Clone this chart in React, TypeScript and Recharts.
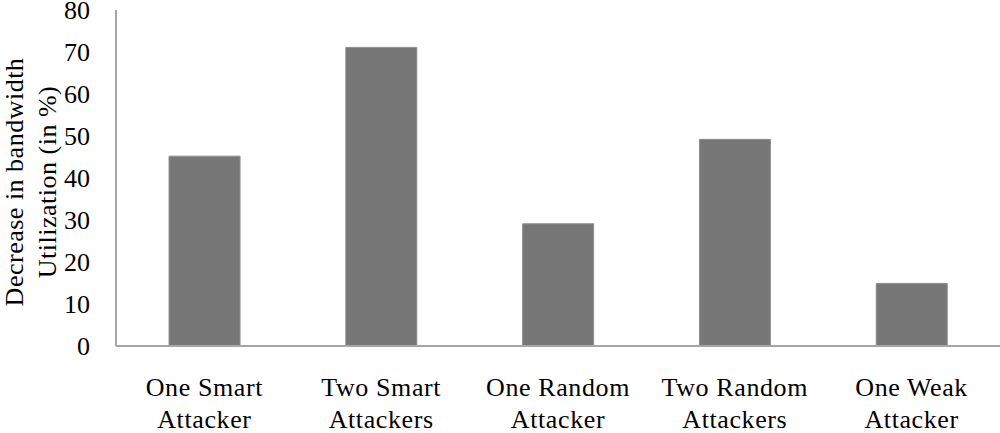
import { BarChart, Bar, XAxis, YAxis } from "recharts";

const categories = [
  ["One Smart", "Attacker"],
  ["Two Smart", "Attackers"],
  ["One Random", "Attacker"],
  ["Two Random", "Attackers"],
  ["One Weak", "Attacker"],
];
const decrease = [45.2, 71.1, 29.1, 49.2, 14.9];
const yTicks = [0, 10, 20, 30, 40, 50, 60, 70, 80];
const yLabelLines = ["Decrease in bandwidth", "Utilization (in %)"];

const data = categories.map((c, i) => ({ name: c.join("\n"), value: decrease[i] }));

const FONT = "Liberation Serif";
const AXIS = "#a6a6a6";

function CategoryTick(props: any) {
  const { x, y, payload } = props;
  const lines = String(payload.value).split("\n");
  return (
    <text x={x} textAnchor="middle" style={{ fontFamily: FONT, letterSpacing: 0.6 }} fontSize={26} fill="#000">
      {lines.map((l, i) => (
        <tspan key={i} x={x} y={y + 50 + i * 32}>
          {l}
        </tspan>
      ))}
    </text>
  );
}

function YTitle() {
  return (
    <g>
      {yLabelLines.map((l, i) => {
        const bx = 23 + i * 33;
        return (
          <text
            key={i}
            x={bx}
            y={182}
            transform={`rotate(-90, ${bx}, 182)`}
            textAnchor="middle"
            style={{ fontFamily: FONT, letterSpacing: 0.5 }}
            fontSize={26}
            fill="#000"
          >
            {l}
          </text>
        );
      })}
    </g>
  );
}

export default function App() {
  return (
    <div style={{ position: "absolute", left: 0, top: 0, background: "#fff" }}>
      <BarChart
        width={1000}
        height={433}
        data={data}
        margin={{ top: 10, right: 0, left: 0, bottom: 0 }}
        barCategoryGap="30%"
      >
        <XAxis
          dataKey="name"
          height={87}
          tick={<CategoryTick />}
          tickLine={false}
          tickSize={0}
          tickMargin={0}
          interval={0}
          axisLine={{ stroke: AXIS, strokeWidth: 2 }}
        />
        <YAxis
          width={116}
          domain={[0, 80]}
          ticks={yTicks}
          interval={0}
          tickLine={false}
          tickSize={0}
          tickMargin={26}
          axisLine={{ stroke: AXIS, strokeWidth: 2 }}
          tick={{ fontFamily: FONT, fontSize: 26, fill: "#000" }}
          label={{ content: () => <YTitle /> }}
        />
        <Bar dataKey="value" fill="#777777" stroke="#8e8e8e" strokeWidth={1} isAnimationActive={false} />
      </BarChart>
    </div>
  );
}
